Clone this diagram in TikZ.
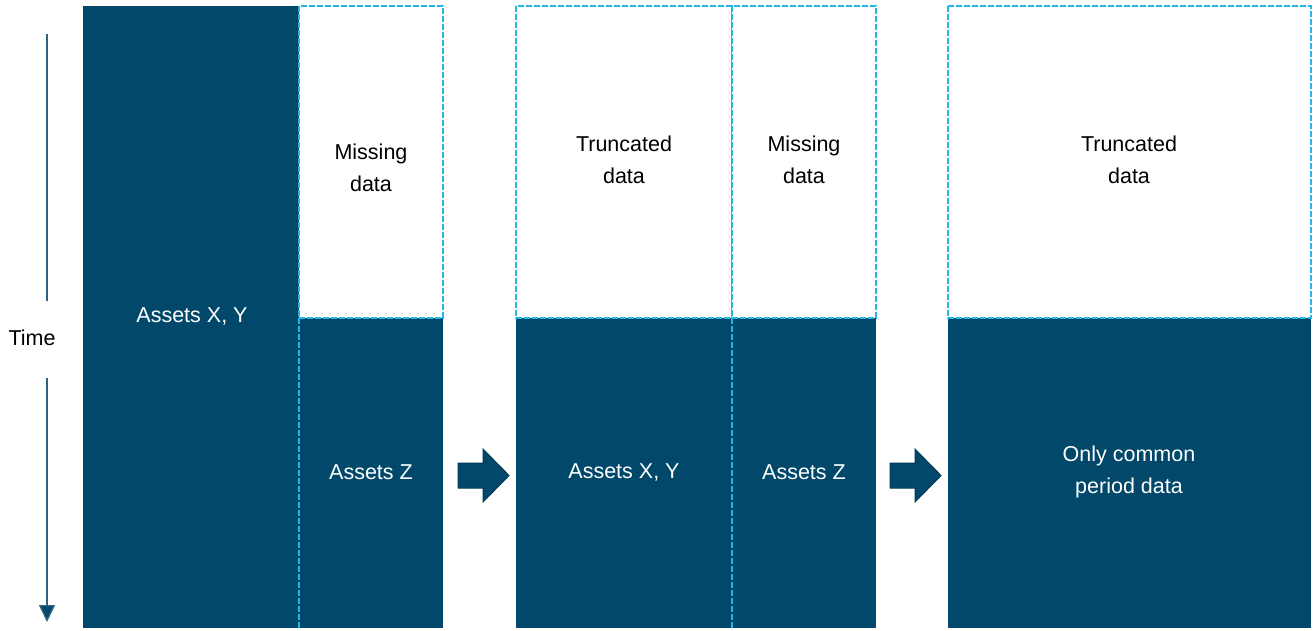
\documentclass[tikz,border=0pt]{standalone}
\usepackage{fontspec}
\setmainfont{Liberation Sans}
\usetikzlibrary{arrows.meta}
\definecolor{navy}{HTML}{01486B}
\definecolor{navyline}{HTML}{003A57}
\definecolor{cyanl}{HTML}{22B8E6}
\definecolor{axis}{HTML}{2F6582}
\begin{document}
\begin{tikzpicture}[x=1pt,y=-1pt,
  txt/.style={font=\fontsize{21.5}{32}\selectfont, align=center},
  darkbox/.style={fill=navy, draw=none, text=white, txt},
  whitebox/.style={fill=white, draw=cyanl, line width=1.2pt, dash pattern=on 6pt off 2pt, text=black, txt},
  divider/.style={draw=cyanl, line width=1.2pt, dash pattern=on 6pt off 2pt},
  blockarrow/.style={fill=navy, draw=navyline, line width=1pt, line join=miter},
  timeline/.style={draw=axis, line width=1.4pt}
]
\useasboundingbox (0,0) rectangle (1313,630);
% panel 1
\path[darkbox] (83,6) rectangle (299,628);
\node[text=white, txt] (xy1) at (192,316) {Assets X, Y};
\path[darkbox] (299,318) rectangle (443,628);
\node[text=white, txt] (z1) at (371,472) {Assets Z};
\path[whitebox] (299,6) rectangle (443,318);
\node[txt] (miss1) at (371,168) {Missing\\data};
\coordinate (d1a) at (299,318);
\coordinate (d1b) at (299,628);
\draw[divider] (d1a) -- (d1b);
% panel 2
\path[darkbox] (516,318) rectangle (876,628);
\node[text=white, txt] (xy2) at (624,472) {Assets X, Y};
\node[text=white, txt] (z2) at (804,472) {Assets Z};
\path[whitebox] (516,6) rectangle (732,318);
\path[whitebox] (732,6) rectangle (876,318);
\node[txt] (tr2) at (624,160) {Truncated\\data};
\node[txt] (miss2) at (804,160) {Missing\\data};
\coordinate (d2a) at (732,318);
\coordinate (d2b) at (732,628);
\draw[divider] (d2a) -- (d2b);
% panel 3
\path[darkbox] (948,318) rectangle (1311,628);
\node[text=white, txt] (common) at (1129,472) {Only common\\period data};
\path[whitebox] (948,6) rectangle (1311,318);
\node[txt] (tr3) at (1129,160) {Truncated\\data};
% block arrows
\foreach \x in {458,890}{
  \draw[blockarrow] (\x,463) -- (\x+25,463) -- (\x+25,449) -- (\x+51,475.5)
    -- (\x+25,502) -- (\x+25,488) -- (\x,488) -- cycle;
}
% time axis
\node[font=\fontsize{21.5}{24}\selectfont] (time) at (32,338) {Time};
\coordinate (ttop) at (47,34);
\coordinate (tup) at (47,301);
\coordinate (tdown) at (47,378);
\coordinate (tbot) at (47,622);
\draw[timeline] (ttop) -- (tup);
\draw[timeline, -{Triangle[width=16pt,length=17pt,fill=navy]}] (tdown) -- (tbot);
\end{tikzpicture}
\end{document}
